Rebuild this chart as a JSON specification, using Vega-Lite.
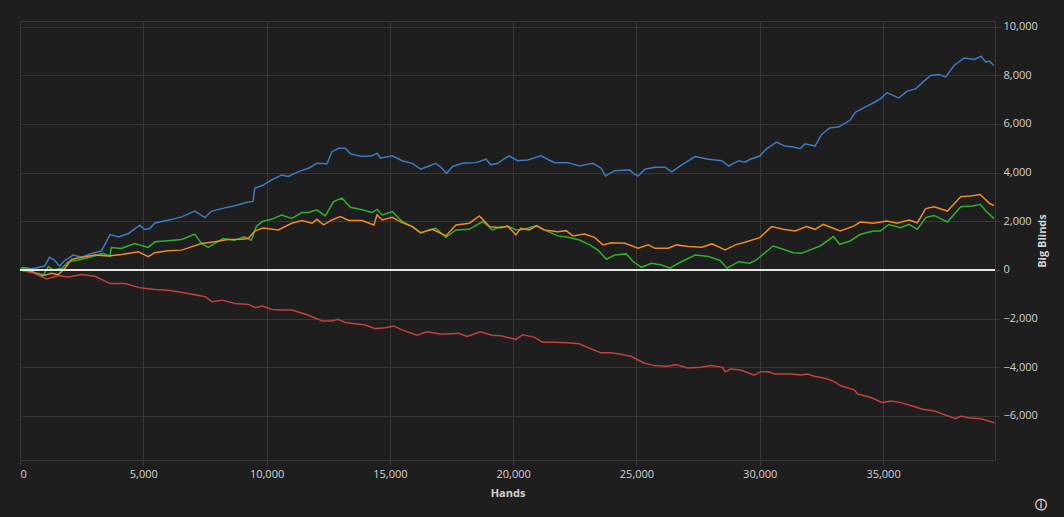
{
  "$schema": "https://vega.github.io/schema/vega-lite/v6.json",
  "autosize": "none",
  "padding": {"left": 20, "top": 21, "right": 69, "bottom": 57},
  "width": 975,
  "height": 439,
  "background": "#1e1e1e",
  "title": {
    "text": "ⓘ",
    "orient": "bottom",
    "anchor": "end",
    "frame": "bounds",
    "font": "DejaVu Sans",
    "fontSize": 12,
    "fontWeight": "bold",
    "color": "#d8d8d8",
    "offset": 2
  },
  "data": {
    "values": [
      {"s": "Showdown", "h": 0, "v": 0}, {"s": "Showdown", "h": 600, "v": 70}, {"s": "Showdown", "h": 1000, "v": 160},
      {"s": "Showdown", "h": 1200, "v": 520}, {"s": "Showdown", "h": 1400, "v": 400}, {"s": "Showdown", "h": 1600, "v": 160},
      {"s": "Showdown", "h": 1800, "v": 380}, {"s": "Showdown", "h": 2160, "v": 610}, {"s": "Showdown", "h": 2500, "v": 520},
      {"s": "Showdown", "h": 2900, "v": 680}, {"s": "Showdown", "h": 3300, "v": 775}, {"s": "Showdown", "h": 3650, "v": 1455},
      {"s": "Showdown", "h": 4000, "v": 1360}, {"s": "Showdown", "h": 4400, "v": 1500}, {"s": "Showdown", "h": 4860, "v": 1840},
      {"s": "Showdown", "h": 5060, "v": 1660}, {"s": "Showdown", "h": 5265, "v": 1700}, {"s": "Showdown", "h": 5470, "v": 1930},
      {"s": "Showdown", "h": 6000, "v": 2040}, {"s": "Showdown", "h": 6550, "v": 2180}, {"s": "Showdown", "h": 7090, "v": 2420},
      {"s": "Showdown", "h": 7500, "v": 2150}, {"s": "Showdown", "h": 7760, "v": 2410}, {"s": "Showdown", "h": 8170, "v": 2520},
      {"s": "Showdown", "h": 8700, "v": 2640}, {"s": "Showdown", "h": 9250, "v": 2790}, {"s": "Showdown", "h": 9450, "v": 2815},
      {"s": "Showdown", "h": 9520, "v": 3360}, {"s": "Showdown", "h": 9850, "v": 3480}, {"s": "Showdown", "h": 10200, "v": 3700},
      {"s": "Showdown", "h": 10610, "v": 3900}, {"s": "Showdown", "h": 10880, "v": 3840}, {"s": "Showdown", "h": 11290, "v": 4040},
      {"s": "Showdown", "h": 11700, "v": 4180}, {"s": "Showdown", "h": 12040, "v": 4380}, {"s": "Showdown", "h": 12450, "v": 4360},
      {"s": "Showdown", "h": 12650, "v": 4860}, {"s": "Showdown", "h": 12920, "v": 5000}, {"s": "Showdown", "h": 13190, "v": 5000},
      {"s": "Showdown", "h": 13400, "v": 4770}, {"s": "Showdown", "h": 13870, "v": 4660}, {"s": "Showdown", "h": 14280, "v": 4690},
      {"s": "Showdown", "h": 14480, "v": 4800}, {"s": "Showdown", "h": 14620, "v": 4590}, {"s": "Showdown", "h": 15100, "v": 4690},
      {"s": "Showdown", "h": 15500, "v": 4490}, {"s": "Showdown", "h": 15910, "v": 4380}, {"s": "Showdown", "h": 16250, "v": 4140},
      {"s": "Showdown", "h": 16590, "v": 4270}, {"s": "Showdown", "h": 16860, "v": 4380}, {"s": "Showdown", "h": 17070, "v": 4220},
      {"s": "Showdown", "h": 17300, "v": 3970}, {"s": "Showdown", "h": 17540, "v": 4250}, {"s": "Showdown", "h": 17950, "v": 4380},
      {"s": "Showdown", "h": 18490, "v": 4410}, {"s": "Showdown", "h": 18900, "v": 4550}, {"s": "Showdown", "h": 19100, "v": 4320},
      {"s": "Showdown", "h": 19380, "v": 4380}, {"s": "Showdown", "h": 19650, "v": 4570}, {"s": "Showdown", "h": 19840, "v": 4690},
      {"s": "Showdown", "h": 20180, "v": 4490}, {"s": "Showdown", "h": 20590, "v": 4520}, {"s": "Showdown", "h": 21130, "v": 4690},
      {"s": "Showdown", "h": 21670, "v": 4410}, {"s": "Showdown", "h": 22220, "v": 4410}, {"s": "Showdown", "h": 22690, "v": 4270},
      {"s": "Showdown", "h": 23230, "v": 4380}, {"s": "Showdown", "h": 23570, "v": 4180}, {"s": "Showdown", "h": 23740, "v": 3860},
      {"s": "Showdown", "h": 24120, "v": 4080}, {"s": "Showdown", "h": 24730, "v": 4110}, {"s": "Showdown", "h": 24870, "v": 3970},
      {"s": "Showdown", "h": 25070, "v": 3860}, {"s": "Showdown", "h": 25340, "v": 4140}, {"s": "Showdown", "h": 25750, "v": 4220},
      {"s": "Showdown", "h": 26160, "v": 4220}, {"s": "Showdown", "h": 26430, "v": 4030}, {"s": "Showdown", "h": 26840, "v": 4320},
      {"s": "Showdown", "h": 27380, "v": 4660}, {"s": "Showdown", "h": 27920, "v": 4550}, {"s": "Showdown", "h": 28460, "v": 4490},
      {"s": "Showdown", "h": 28740, "v": 4270}, {"s": "Showdown", "h": 29150, "v": 4490}, {"s": "Showdown", "h": 29390, "v": 4430},
      {"s": "Showdown", "h": 29620, "v": 4550}, {"s": "Showdown", "h": 30000, "v": 4680}, {"s": "Showdown", "h": 30270, "v": 4980},
      {"s": "Showdown", "h": 30680, "v": 5250}, {"s": "Showdown", "h": 31020, "v": 5090}, {"s": "Showdown", "h": 31360, "v": 5050},
      {"s": "Showdown", "h": 31630, "v": 4980}, {"s": "Showdown", "h": 31830, "v": 5180}, {"s": "Showdown", "h": 32240, "v": 5090},
      {"s": "Showdown", "h": 32510, "v": 5570}, {"s": "Showdown", "h": 32850, "v": 5840}, {"s": "Showdown", "h": 33190, "v": 5870},
      {"s": "Showdown", "h": 33670, "v": 6160}, {"s": "Showdown", "h": 33870, "v": 6480}, {"s": "Showdown", "h": 34350, "v": 6730},
      {"s": "Showdown", "h": 34620, "v": 6870}, {"s": "Showdown", "h": 34890, "v": 7030}, {"s": "Showdown", "h": 35160, "v": 7280},
      {"s": "Showdown", "h": 35640, "v": 7070}, {"s": "Showdown", "h": 35980, "v": 7350}, {"s": "Showdown", "h": 36320, "v": 7440},
      {"s": "Showdown", "h": 36660, "v": 7760}, {"s": "Showdown", "h": 36930, "v": 7990}, {"s": "Showdown", "h": 37270, "v": 8030},
      {"s": "Showdown", "h": 37540, "v": 7930}, {"s": "Showdown", "h": 37880, "v": 8400}, {"s": "Showdown", "h": 38290, "v": 8710},
      {"s": "Showdown", "h": 38700, "v": 8650}, {"s": "Showdown", "h": 38970, "v": 8780}, {"s": "Showdown", "h": 39170, "v": 8540},
      {"s": "Showdown", "h": 39310, "v": 8580}, {"s": "Showdown", "h": 39500, "v": 8400},

      {"s": "Net Won", "h": 0, "v": 0}, {"s": "Net Won", "h": 100, "v": 95}, {"s": "Net Won", "h": 340, "v": 70},
      {"s": "Net Won", "h": 600, "v": -110}, {"s": "Net Won", "h": 950, "v": -200}, {"s": "Net Won", "h": 1150, "v": 135},
      {"s": "Net Won", "h": 1350, "v": 0}, {"s": "Net Won", "h": 1700, "v": 70}, {"s": "Net Won", "h": 1960, "v": 340},
      {"s": "Net Won", "h": 2360, "v": 410}, {"s": "Net Won", "h": 2900, "v": 545}, {"s": "Net Won", "h": 3375, "v": 680},
      {"s": "Net Won", "h": 3650, "v": 570}, {"s": "Net Won", "h": 3700, "v": 925}, {"s": "Net Won", "h": 4100, "v": 885},
      {"s": "Net Won", "h": 4660, "v": 1090}, {"s": "Net Won", "h": 5200, "v": 925}, {"s": "Net Won", "h": 5470, "v": 1155},
      {"s": "Net Won", "h": 6000, "v": 1200}, {"s": "Net Won", "h": 6550, "v": 1250}, {"s": "Net Won", "h": 7090, "v": 1470},
      {"s": "Net Won", "h": 7360, "v": 1090}, {"s": "Net Won", "h": 7630, "v": 925}, {"s": "Net Won", "h": 7900, "v": 1090},
      {"s": "Net Won", "h": 8240, "v": 1290}, {"s": "Net Won", "h": 8700, "v": 1225}, {"s": "Net Won", "h": 9100, "v": 1360},
      {"s": "Net Won", "h": 9380, "v": 1225}, {"s": "Net Won", "h": 9590, "v": 1795}, {"s": "Net Won", "h": 9850, "v": 2000},
      {"s": "Net Won", "h": 10200, "v": 2080}, {"s": "Net Won", "h": 10610, "v": 2260}, {"s": "Net Won", "h": 11020, "v": 2120},
      {"s": "Net Won", "h": 11430, "v": 2360}, {"s": "Net Won", "h": 11700, "v": 2360}, {"s": "Net Won", "h": 12040, "v": 2470},
      {"s": "Net Won", "h": 12380, "v": 2220}, {"s": "Net Won", "h": 12720, "v": 2810}, {"s": "Net Won", "h": 13060, "v": 2950},
      {"s": "Net Won", "h": 13400, "v": 2575}, {"s": "Net Won", "h": 13870, "v": 2470}, {"s": "Net Won", "h": 14280, "v": 2360},
      {"s": "Net Won", "h": 14480, "v": 2490}, {"s": "Net Won", "h": 14690, "v": 2260}, {"s": "Net Won", "h": 15100, "v": 2400},
      {"s": "Net Won", "h": 15500, "v": 1990}, {"s": "Net Won", "h": 15910, "v": 1780}, {"s": "Net Won", "h": 16250, "v": 1510},
      {"s": "Net Won", "h": 16590, "v": 1645}, {"s": "Net Won", "h": 16860, "v": 1710}, {"s": "Net Won", "h": 17270, "v": 1340},
      {"s": "Net Won", "h": 17680, "v": 1645}, {"s": "Net Won", "h": 18220, "v": 1670}, {"s": "Net Won", "h": 18770, "v": 1990},
      {"s": "Net Won", "h": 19170, "v": 1645}, {"s": "Net Won", "h": 19500, "v": 1780}, {"s": "Net Won", "h": 19840, "v": 1780},
      {"s": "Net Won", "h": 20110, "v": 1645}, {"s": "Net Won", "h": 20450, "v": 1670}, {"s": "Net Won", "h": 20920, "v": 1810},
      {"s": "Net Won", "h": 21260, "v": 1645}, {"s": "Net Won", "h": 21810, "v": 1400}, {"s": "Net Won", "h": 22220, "v": 1340},
      {"s": "Net Won", "h": 22690, "v": 1230}, {"s": "Net Won", "h": 23100, "v": 1030}, {"s": "Net Won", "h": 23440, "v": 820},
      {"s": "Net Won", "h": 23780, "v": 440}, {"s": "Net Won", "h": 24120, "v": 615}, {"s": "Net Won", "h": 24590, "v": 660},
      {"s": "Net Won", "h": 24870, "v": 340}, {"s": "Net Won", "h": 25200, "v": 110}, {"s": "Net Won", "h": 25610, "v": 275},
      {"s": "Net Won", "h": 26020, "v": 205}, {"s": "Net Won", "h": 26360, "v": 70}, {"s": "Net Won", "h": 26700, "v": 275},
      {"s": "Net Won", "h": 27110, "v": 480}, {"s": "Net Won", "h": 27380, "v": 615}, {"s": "Net Won", "h": 27920, "v": 550},
      {"s": "Net Won", "h": 28400, "v": 385}, {"s": "Net Won", "h": 28670, "v": 70}, {"s": "Net Won", "h": 29150, "v": 340},
      {"s": "Net Won", "h": 29590, "v": 275}, {"s": "Net Won", "h": 29860, "v": 410}, {"s": "Net Won", "h": 30540, "v": 985},
      {"s": "Net Won", "h": 30950, "v": 850}, {"s": "Net Won", "h": 31360, "v": 710}, {"s": "Net Won", "h": 31700, "v": 685},
      {"s": "Net Won", "h": 32170, "v": 875}, {"s": "Net Won", "h": 32450, "v": 985}, {"s": "Net Won", "h": 32990, "v": 1370},
      {"s": "Net Won", "h": 33240, "v": 1055}, {"s": "Net Won", "h": 33670, "v": 1190}, {"s": "Net Won", "h": 34080, "v": 1465},
      {"s": "Net Won", "h": 34620, "v": 1600}, {"s": "Net Won", "h": 34890, "v": 1600}, {"s": "Net Won", "h": 35230, "v": 1870},
      {"s": "Net Won", "h": 35710, "v": 1740}, {"s": "Net Won", "h": 36050, "v": 1870}, {"s": "Net Won", "h": 36390, "v": 1670},
      {"s": "Net Won", "h": 36730, "v": 2150}, {"s": "Net Won", "h": 37070, "v": 2240}, {"s": "Net Won", "h": 37610, "v": 1970},
      {"s": "Net Won", "h": 38150, "v": 2600}, {"s": "Net Won", "h": 38630, "v": 2630}, {"s": "Net Won", "h": 38940, "v": 2700},
      {"s": "Net Won", "h": 39170, "v": 2420}, {"s": "Net Won", "h": 39500, "v": 2110},

      {"s": "All-in EV", "h": 0, "v": 0}, {"s": "All-in EV", "h": 470, "v": -70}, {"s": "All-in EV", "h": 880, "v": -245},
      {"s": "All-in EV", "h": 1280, "v": -135}, {"s": "All-in EV", "h": 1550, "v": -200}, {"s": "All-in EV", "h": 1820, "v": 70},
      {"s": "All-in EV", "h": 2090, "v": 435}, {"s": "All-in EV", "h": 2500, "v": 520}, {"s": "All-in EV", "h": 3040, "v": 610},
      {"s": "All-in EV", "h": 3580, "v": 570}, {"s": "All-in EV", "h": 4120, "v": 640}, {"s": "All-in EV", "h": 4800, "v": 750},
      {"s": "All-in EV", "h": 5200, "v": 545}, {"s": "All-in EV", "h": 5470, "v": 710}, {"s": "All-in EV", "h": 6000, "v": 790},
      {"s": "All-in EV", "h": 6550, "v": 815}, {"s": "All-in EV", "h": 6950, "v": 950}, {"s": "All-in EV", "h": 7360, "v": 1090},
      {"s": "All-in EV", "h": 7900, "v": 1155}, {"s": "All-in EV", "h": 8440, "v": 1250}, {"s": "All-in EV", "h": 8980, "v": 1265},
      {"s": "All-in EV", "h": 9250, "v": 1290}, {"s": "All-in EV", "h": 9520, "v": 1600}, {"s": "All-in EV", "h": 9850, "v": 1720},
      {"s": "All-in EV", "h": 10475, "v": 1645}, {"s": "All-in EV", "h": 11020, "v": 1920}, {"s": "All-in EV", "h": 11430, "v": 2030},
      {"s": "All-in EV", "h": 11840, "v": 1920}, {"s": "All-in EV", "h": 12040, "v": 2080}, {"s": "All-in EV", "h": 12310, "v": 1850},
      {"s": "All-in EV", "h": 12650, "v": 2055}, {"s": "All-in EV", "h": 12990, "v": 2190}, {"s": "All-in EV", "h": 13330, "v": 2030},
      {"s": "All-in EV", "h": 13870, "v": 2030}, {"s": "All-in EV", "h": 14350, "v": 1850}, {"s": "All-in EV", "h": 14480, "v": 2260},
      {"s": "All-in EV", "h": 14690, "v": 2055}, {"s": "All-in EV", "h": 15100, "v": 2165}, {"s": "All-in EV", "h": 15500, "v": 1945},
      {"s": "All-in EV", "h": 15910, "v": 1780}, {"s": "All-in EV", "h": 16250, "v": 1535}, {"s": "All-in EV", "h": 16730, "v": 1670},
      {"s": "All-in EV", "h": 17270, "v": 1400}, {"s": "All-in EV", "h": 17680, "v": 1850}, {"s": "All-in EV", "h": 18220, "v": 1920},
      {"s": "All-in EV", "h": 18630, "v": 2220}, {"s": "All-in EV", "h": 19040, "v": 1780}, {"s": "All-in EV", "h": 19500, "v": 1730},
      {"s": "All-in EV", "h": 19770, "v": 1810}, {"s": "All-in EV", "h": 20110, "v": 1440}, {"s": "All-in EV", "h": 20310, "v": 1710},
      {"s": "All-in EV", "h": 20650, "v": 1645}, {"s": "All-in EV", "h": 20960, "v": 1820}, {"s": "All-in EV", "h": 21260, "v": 1645},
      {"s": "All-in EV", "h": 21810, "v": 1575}, {"s": "All-in EV", "h": 22150, "v": 1615}, {"s": "All-in EV", "h": 22420, "v": 1400},
      {"s": "All-in EV", "h": 22890, "v": 1480}, {"s": "All-in EV", "h": 23300, "v": 1340}, {"s": "All-in EV", "h": 23640, "v": 1030},
      {"s": "All-in EV", "h": 23980, "v": 1120}, {"s": "All-in EV", "h": 24530, "v": 1095}, {"s": "All-in EV", "h": 25070, "v": 890},
      {"s": "All-in EV", "h": 25480, "v": 1030}, {"s": "All-in EV", "h": 25750, "v": 890}, {"s": "All-in EV", "h": 26290, "v": 890},
      {"s": "All-in EV", "h": 26630, "v": 1030}, {"s": "All-in EV", "h": 27110, "v": 960}, {"s": "All-in EV", "h": 27650, "v": 930},
      {"s": "All-in EV", "h": 28060, "v": 1070}, {"s": "All-in EV", "h": 28600, "v": 820}, {"s": "All-in EV", "h": 29010, "v": 1030},
      {"s": "All-in EV", "h": 29400, "v": 1140}, {"s": "All-in EV", "h": 30000, "v": 1330}, {"s": "All-in EV", "h": 30480, "v": 1780},
      {"s": "All-in EV", "h": 30950, "v": 1670}, {"s": "All-in EV", "h": 31430, "v": 1600}, {"s": "All-in EV", "h": 31900, "v": 1780},
      {"s": "All-in EV", "h": 32240, "v": 1670}, {"s": "All-in EV", "h": 32580, "v": 1870}, {"s": "All-in EV", "h": 33260, "v": 1600},
      {"s": "All-in EV", "h": 33810, "v": 1800}, {"s": "All-in EV", "h": 34080, "v": 1970}, {"s": "All-in EV", "h": 34620, "v": 1920},
      {"s": "All-in EV", "h": 35160, "v": 2010}, {"s": "All-in EV", "h": 35570, "v": 1920}, {"s": "All-in EV", "h": 36050, "v": 2050},
      {"s": "All-in EV", "h": 36390, "v": 1940}, {"s": "All-in EV", "h": 36730, "v": 2520}, {"s": "All-in EV", "h": 37070, "v": 2600},
      {"s": "All-in EV", "h": 37610, "v": 2420}, {"s": "All-in EV", "h": 38150, "v": 3010}, {"s": "All-in EV", "h": 38560, "v": 3040},
      {"s": "All-in EV", "h": 38940, "v": 3100}, {"s": "All-in EV", "h": 39310, "v": 2740}, {"s": "All-in EV", "h": 39500, "v": 2650},

      {"s": "Non-Showdown", "h": 0, "v": 0}, {"s": "Non-Showdown", "h": 610, "v": -150}, {"s": "Non-Showdown", "h": 1080, "v": -370},
      {"s": "Non-Showdown", "h": 1560, "v": -230}, {"s": "Non-Showdown", "h": 1960, "v": -285}, {"s": "Non-Showdown", "h": 2500, "v": -190},
      {"s": "Non-Showdown", "h": 3040, "v": -260}, {"s": "Non-Showdown", "h": 3650, "v": -560}, {"s": "Non-Showdown", "h": 4260, "v": -560},
      {"s": "Non-Showdown", "h": 4870, "v": -735}, {"s": "Non-Showdown", "h": 5480, "v": -800}, {"s": "Non-Showdown", "h": 6020, "v": -830},
      {"s": "Non-Showdown", "h": 6830, "v": -965}, {"s": "Non-Showdown", "h": 7510, "v": -1100}, {"s": "Non-Showdown", "h": 7780, "v": -1305},
      {"s": "Non-Showdown", "h": 8190, "v": -1240}, {"s": "Non-Showdown", "h": 8730, "v": -1375}, {"s": "Non-Showdown", "h": 9270, "v": -1415},
      {"s": "Non-Showdown", "h": 9540, "v": -1550}, {"s": "Non-Showdown", "h": 9810, "v": -1480}, {"s": "Non-Showdown", "h": 10220, "v": -1620},
      {"s": "Non-Showdown", "h": 10620, "v": -1645}, {"s": "Non-Showdown", "h": 11030, "v": -1645}, {"s": "Non-Showdown", "h": 11700, "v": -1860},
      {"s": "Non-Showdown", "h": 12250, "v": -2095}, {"s": "Non-Showdown", "h": 12650, "v": -2095}, {"s": "Non-Showdown", "h": 12890, "v": -2025},
      {"s": "Non-Showdown", "h": 13190, "v": -2160}, {"s": "Non-Showdown", "h": 14000, "v": -2260}, {"s": "Non-Showdown", "h": 14410, "v": -2410},
      {"s": "Non-Showdown", "h": 14820, "v": -2370}, {"s": "Non-Showdown", "h": 15150, "v": -2300}, {"s": "Non-Showdown", "h": 15490, "v": -2460},
      {"s": "Non-Showdown", "h": 16100, "v": -2680}, {"s": "Non-Showdown", "h": 16510, "v": -2540}, {"s": "Non-Showdown", "h": 17110, "v": -2640},
      {"s": "Non-Showdown", "h": 17790, "v": -2600}, {"s": "Non-Showdown", "h": 18130, "v": -2730}, {"s": "Non-Showdown", "h": 18670, "v": -2540},
      {"s": "Non-Showdown", "h": 19140, "v": -2680}, {"s": "Non-Showdown", "h": 19500, "v": -2700}, {"s": "Non-Showdown", "h": 20110, "v": -2855},
      {"s": "Non-Showdown", "h": 20380, "v": -2660}, {"s": "Non-Showdown", "h": 20850, "v": -2760}, {"s": "Non-Showdown", "h": 21190, "v": -2965},
      {"s": "Non-Showdown", "h": 21660, "v": -2965}, {"s": "Non-Showdown", "h": 22200, "v": -2990}, {"s": "Non-Showdown", "h": 22680, "v": -3035},
      {"s": "Non-Showdown", "h": 23150, "v": -3240}, {"s": "Non-Showdown", "h": 23560, "v": -3405}, {"s": "Non-Showdown", "h": 23960, "v": -3405},
      {"s": "Non-Showdown", "h": 24370, "v": -3460}, {"s": "Non-Showdown", "h": 24770, "v": -3545}, {"s": "Non-Showdown", "h": 25310, "v": -3820},
      {"s": "Non-Showdown", "h": 25720, "v": -3930}, {"s": "Non-Showdown", "h": 26260, "v": -3960}, {"s": "Non-Showdown", "h": 26600, "v": -3890},
      {"s": "Non-Showdown", "h": 27070, "v": -4030}, {"s": "Non-Showdown", "h": 27610, "v": -4000}, {"s": "Non-Showdown", "h": 28020, "v": -3930},
      {"s": "Non-Showdown", "h": 28490, "v": -4000}, {"s": "Non-Showdown", "h": 28590, "v": -4180}, {"s": "Non-Showdown", "h": 28830, "v": -4070},
      {"s": "Non-Showdown", "h": 29230, "v": -4110}, {"s": "Non-Showdown", "h": 29770, "v": -4320}, {"s": "Non-Showdown", "h": 30040, "v": -4180},
      {"s": "Non-Showdown", "h": 30380, "v": -4180}, {"s": "Non-Showdown", "h": 30590, "v": -4275}, {"s": "Non-Showdown", "h": 31260, "v": -4275},
      {"s": "Non-Showdown", "h": 31670, "v": -4320}, {"s": "Non-Showdown", "h": 31940, "v": -4275}, {"s": "Non-Showdown", "h": 32210, "v": -4370},
      {"s": "Non-Showdown", "h": 32680, "v": -4455}, {"s": "Non-Showdown", "h": 33020, "v": -4590}, {"s": "Non-Showdown", "h": 33290, "v": -4760},
      {"s": "Non-Showdown", "h": 33830, "v": -4925}, {"s": "Non-Showdown", "h": 33970, "v": -5100}, {"s": "Non-Showdown", "h": 34510, "v": -5240},
      {"s": "Non-Showdown", "h": 34980, "v": -5450}, {"s": "Non-Showdown", "h": 35320, "v": -5380}, {"s": "Non-Showdown", "h": 35720, "v": -5450},
      {"s": "Non-Showdown", "h": 36260, "v": -5610}, {"s": "Non-Showdown", "h": 36600, "v": -5720}, {"s": "Non-Showdown", "h": 37080, "v": -5790},
      {"s": "Non-Showdown", "h": 37550, "v": -5970}, {"s": "Non-Showdown", "h": 37950, "v": -6110}, {"s": "Non-Showdown", "h": 38160, "v": -6000},
      {"s": "Non-Showdown", "h": 38430, "v": -6070}, {"s": "Non-Showdown", "h": 38970, "v": -6110}, {"s": "Non-Showdown", "h": 39510, "v": -6275}
    ]
  },
  "layer": [
    {
      "mark": {"type": "line", "strokeWidth": 1.5, "interpolate": "linear"},
      "encoding": {
        "x": {
          "field": "h",
          "type": "quantitative",
          "title": "Hands",
          "scale": {"domain": [0, 39540], "nice": false, "zero": false},
          "axis": {"values": [0, 5000, 10000, 15000, 20000, 25000, 30000, 35000], "format": ",d"}
        },
        "y": {
          "field": "v",
          "type": "quantitative",
          "title": "Big Blinds",
          "scale": {"domain": [-7808, 10229], "nice": false, "zero": false},
          "axis": {
            "orient": "right",
            "values": [-6000, -4000, -2000, 0, 2000, 4000, 6000, 8000, 10000],
            "format": ",d",
            "titleAngle": 270,
            "titlePadding": 10
          }
        },
        "color": {
          "field": "s",
          "type": "nominal",
          "legend": null,
          "scale": {
            "domain": ["Non-Showdown", "All-in EV", "Net Won", "Showdown"],
            "range": ["#c4403e", "#ee8a2a", "#2fb12f", "#3b7cc2"]
          }
        }
      }
    },
    {
      "mark": {"type": "rule", "color": "#e6e6e6", "strokeWidth": 2},
      "encoding": {"y": {"datum": 0}}
    }
  ],
  "config": {
    "view": {"stroke": "#3a3a3a", "strokeWidth": 1},
    "font": "Open Sans",
    "axis": {
      "gridColor": "#363636",
      "gridWidth": 1,
      "domain": false,
      "tickColor": "#3a3a3a",
      "tickSize": 5,
      "labelColor": "#d2d2d2",
      "labelFont": "Open Sans",
      "labelFontSize": 11,
      "labelPadding": 3,
      "titleColor": "#d2d2d2",
      "titleFont": "Open Sans",
      "titleFontSize": 11,
      "titleFontWeight": "bold"
    },
    "axisX": {"titlePadding": 8}
  }
}
